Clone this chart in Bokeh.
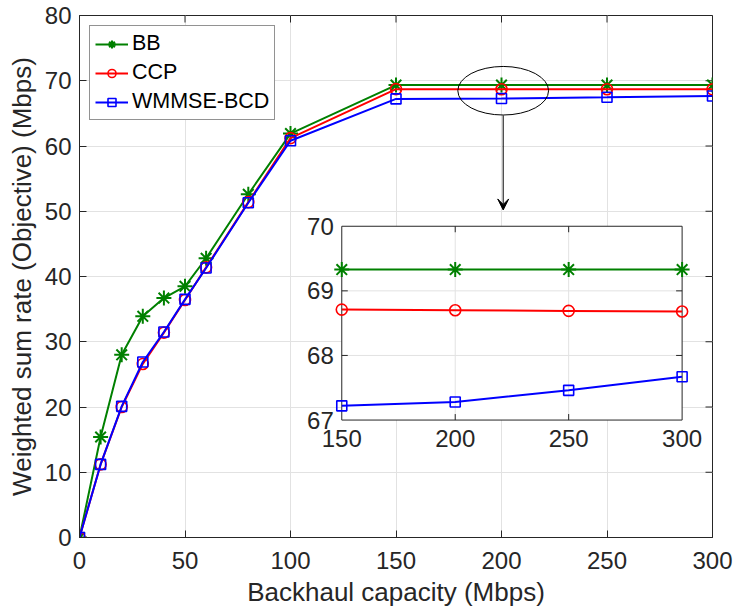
import math
from bokeh.plotting import figure
from bokeh.models import Range1d, FixedTicker, Arrow, VeeHead
from bokeh.embed import file_html
from bokeh.resources import INLINE
from bokeh.core.properties import value

# ---------------- data ----------------
backhaul = [0, 10, 20, 30, 40, 50, 60, 80, 100, 150, 200, 250, 300]
bb = [0, 15.4, 28.0, 33.9, 36.7, 38.5, 42.8, 52.6, 61.9, 69.33, 69.33, 69.33, 69.33]
ccp = [0, 11.2, 20.0, 26.6, 31.4, 36.4, 41.4, 51.4, 61.2, 68.71, 68.70, 68.69, 68.68]
wmmse = [0, 11.2, 20.1, 26.9, 31.5, 36.5, 41.3, 51.3, 60.8, 67.22, 67.28, 67.46, 67.67]

x_ticks = [0, 50, 100, 150, 200, 250, 300]
y_ticks = [0, 10, 20, 30, 40, 50, 60, 70, 80]

inset_start = 9  # inset shows backhaul >= 150
inset_xticks = [150, 200, 250, 300]
inset_yticks = [67, 68, 69, 70]

series_names = ["BB", "CCP", "WMMSE-BCD"]

# ---------------- style ----------------
FONT = value("Liberation Sans")
TXT = "#262626"
GRID = "#e2e2e2"
GREEN, RED, BLUE = "#008000", "#ff0000", "#0000ff"

p = figure(width=734, height=612, x_range=Range1d(0, 300), y_range=Range1d(0, 80),
           output_backend="svg", toolbar_location=None,
           min_border_left=79, min_border_right=22, min_border_top=15, min_border_bottom=75,
           background_fill_color="white", border_fill_color="white")

p.outline_line_color = TXT
p.outline_line_width = 1

p.xaxis.ticker = FixedTicker(ticks=x_ticks)
p.yaxis.ticker = FixedTicker(ticks=y_ticks)
for ax in (p.xaxis, p.yaxis):
    ax.major_tick_in = 7
    ax.major_tick_out = 0
    ax.minor_tick_in = 0
    ax.minor_tick_out = 0
    ax.axis_line_color = TXT
    ax.major_tick_line_color = TXT
    ax.major_label_text_font = "Liberation Sans"
    ax.major_label_text_font_size = "24px"
    ax.major_label_text_color = TXT
    ax.axis_label_text_font = "Liberation Sans"
    ax.axis_label_text_font_style = "normal"
    ax.axis_label_text_color = TXT
    ax.axis_label_text_font_size = "26px"

p.xaxis.axis_label = "Backhaul capacity (Mbps)"
p.xaxis.major_label_standoff = 14
p.xaxis.axis_label_standoff = 5
p.yaxis.axis_label = "Weighted sum rate (Objective) (Mbps)"
p.yaxis.major_label_standoff = 8
p.yaxis.axis_label_standoff = 5

p.xgrid.ticker = FixedTicker(ticks=x_ticks)
p.ygrid.ticker = FixedTicker(ticks=y_ticks)
p.grid.grid_line_color = GRID
p.grid.grid_line_width = 1

# box ticks on the top and right edges (inward)
p.ray(x=x_ticks, y=[80] * len(x_ticks), length=7, length_units="screen",
      angle=-math.pi / 2, line_color=TXT, line_width=1)
p.ray(x=[300] * len(y_ticks), y=y_ticks, length=7, length_units="screen",
      angle=math.pi, line_color=TXT, line_width=1)

# ---------------- main series ----------------
p.line(backhaul, bb, line_color=GREEN, line_width=2, legend_label=series_names[0])
p.scatter(backhaul, bb, marker="asterisk", size=15, line_color=GREEN, line_width=2,
          legend_label=series_names[0])
p.line(backhaul, ccp, line_color=RED, line_width=2, legend_label=series_names[1])
p.scatter(backhaul, ccp, marker="circle", size=11, line_color=RED, fill_color=None,
          line_width=1.6, legend_label=series_names[1])
p.line(backhaul, wmmse, line_color=BLUE, line_width=2, legend_label=series_names[2])
p.scatter(backhaul, wmmse, marker="square", size=10, line_color=BLUE, fill_color=None,
          line_width=1.6, legend_label=series_names[2])

# ---------------- legend ----------------
lg = p.legend[0]
lg.location = "top_left"
lg.margin = 10
lg.padding = 5
lg.spacing = 4
lg.glyph_width = 33
lg.glyph_height = 20
lg.label_standoff = 4
lg.label_text_font = "Liberation Sans"
lg.label_text_font_size = "21.5px"
lg.label_text_color = "black"
lg.border_line_color = TXT
lg.border_line_width = 1
lg.background_fill_color = "white"
lg.background_fill_alpha = 1

# ---------------- zoom annotation ----------------
p.ellipse(x=[200.8], y=[68.47], width=43, height=7.45, fill_color=None,
          line_color="black", line_width=1)
p.add_layout(Arrow(x_start=200.8, y_start=64.7, x_end=200.8, y_end=50.2,
                   line_color="black", line_width=1,
                   end=VeeHead(size=11, fill_color="black", line_color="black")))

# ---------------- inset ----------------
sub = p.subplot(x_source=Range1d(inset_xticks[0], inset_xticks[-1]),
                y_source=Range1d(inset_yticks[0], inset_yticks[-1]),
                x_target=Range1d(124.3, 285.6), y_target=Range1d(18.0, 47.7))

x0, x1 = inset_xticks[0], inset_xticks[-1]
y0, y1 = inset_yticks[0], inset_yticks[-1]
sub.quad(left=[x0], right=[x1], bottom=[y0], top=[y1], fill_color="white",
         line_color=None)
# inset grid
gx = inset_xticks[1:-1]
gy = inset_yticks[1:-1]
sub.segment(x0=gx, y0=[y0] * len(gx), x1=gx, y1=[y1] * len(gx), line_color=GRID, line_width=1)
sub.segment(x0=[x0] * len(gy), y0=gy, x1=[x1] * len(gy), y1=gy, line_color=GRID, line_width=1)
# inset box
sub.quad(left=[x0], right=[x1], bottom=[y0], top=[y1], fill_color=None,
         line_color=TXT, line_width=1)
# inset ticks (inward)
sub.ray(x=[x0] * len(gy), y=gy, length=6, length_units="screen", angle=0, line_color=TXT)
sub.ray(x=[x1] * len(gy), y=gy, length=6, length_units="screen", angle=math.pi, line_color=TXT)
sub.ray(x=gx, y=[y0] * len(gx), length=6, length_units="screen", angle=math.pi / 2, line_color=TXT)
sub.ray(x=gx, y=[y1] * len(gx), length=6, length_units="screen", angle=-math.pi / 2, line_color=TXT)

ix = backhaul[inset_start:]
sub.line(ix, bb[inset_start:], line_color=GREEN, line_width=2)
sub.scatter(ix, bb[inset_start:], marker="asterisk", size=15, line_color=GREEN, line_width=2)
sub.line(ix, ccp[inset_start:], line_color=RED, line_width=2)
sub.scatter(ix, ccp[inset_start:], marker="circle", size=11, line_color=RED, fill_color=None, line_width=1.6)
sub.line(ix, wmmse[inset_start:], line_color=BLUE, line_width=2)
sub.scatter(ix, wmmse[inset_start:], marker="square", size=10, line_color=BLUE, fill_color=None, line_width=1.6)

# inset tick labels
sub.text(x=[x0] * len(inset_yticks), y=inset_yticks, text=[str(t) for t in inset_yticks],
         text_font=FONT, text_font_size="24px", text_color=TXT,
         text_align="right", text_baseline="middle", x_offset=-8)
sub.text(x=inset_xticks, y=[y0] * len(inset_xticks), text=[str(t) for t in inset_xticks],
         text_font=FONT, text_font_size="24px", text_color=TXT,
         text_align="center", text_baseline="top", y_offset=10)

open("out.html", "w").write(file_html(p, INLINE))
